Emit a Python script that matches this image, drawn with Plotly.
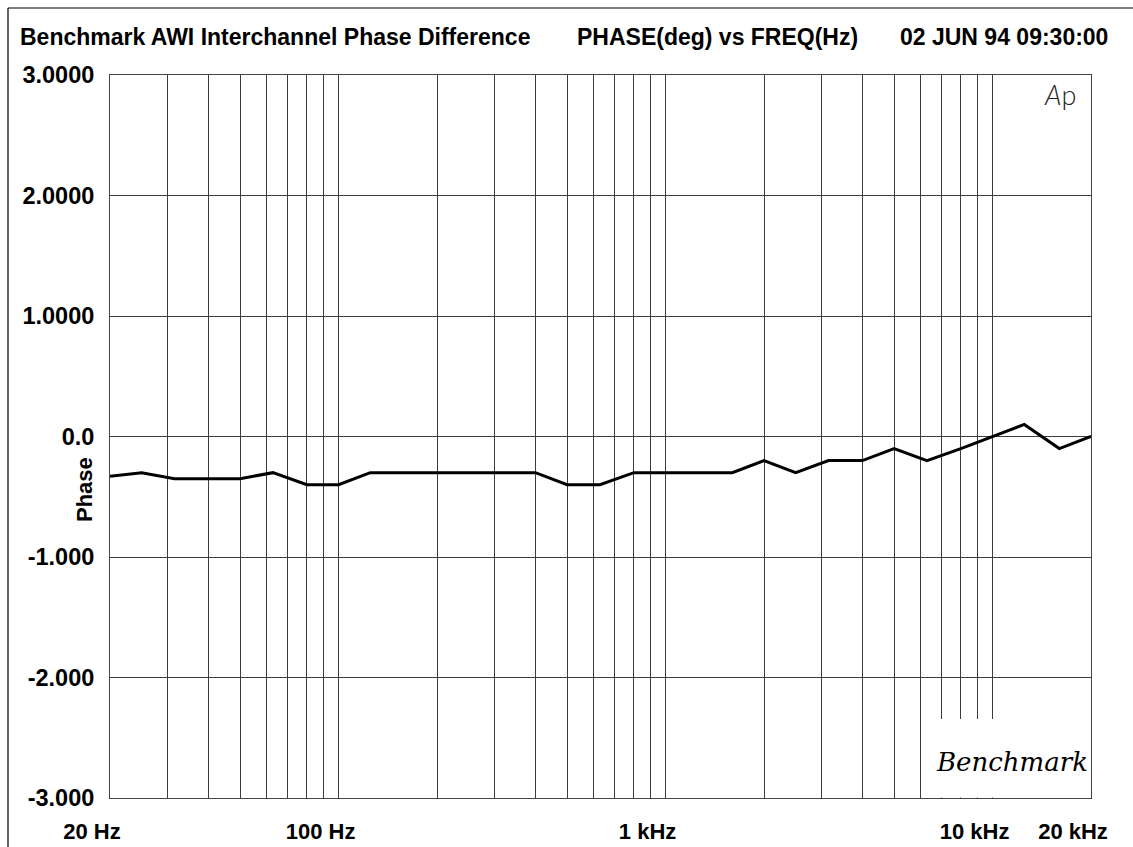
import plotly.graph_objects as go

# ---- data (1/3-octave points) ----
freq_hz = [20, 25, 31.5, 40, 50, 63, 80, 100, 125, 160, 200, 250, 315, 400, 500, 630,
           800, 1000, 1250, 1600, 2000, 2500, 3150, 4000, 5000, 6300, 8000, 10000,
           12500, 16000, 20000]
phase_deg = [-0.33, -0.30, -0.35, -0.35, -0.35, -0.30, -0.40, -0.40, -0.30, -0.30,
             -0.30, -0.30, -0.30, -0.30, -0.40, -0.40, -0.30, -0.30, -0.30, -0.30,
             -0.20, -0.30, -0.20, -0.20, -0.10, -0.20, -0.10, 0.00, 0.10, -0.10, 0.00]

x_tick_vals = [20, 100, 1000, 10000, 20000]
x_tick_text = ["20 Hz", "100 Hz", "1 kHz", "10 kHz", "20 kHz"]
x_minor_vals = [30, 40, 50, 60, 70, 80, 90,
                200, 300, 400, 500, 600, 700, 800, 900,
                2000, 3000, 4000, 5000, 6000, 7000, 8000, 9000]
y_tick_vals = [3, 2, 1, 0, -1, -2, -3]
y_tick_text = ["3.0000", "2.0000", "1.0000", "0.0", "-1.000", "-2.000", "-3.000"]

title_left = "Benchmark AWI Interchannel Phase Difference"
title_mid = "PHASE(deg) vs FREQ(Hz)"
title_right = "02 JUN 94 09:30:00"
y_label = "Phase"

# ---- layout geometry ----
W, H = 1133, 847
L, R, T, B = 110, 42, 75, 49
PW, PH = W - L - R, H - T - B


def px(xp):
    return (xp - L) / PW


def py(yp):
    return (H - B - yp) / PH


FONT = "Liberation Sans, Arial, Helvetica, sans-serif"
GRID = "#3c3c3c"

fig = go.Figure()
fig.add_trace(go.Scatter(x=freq_hz, y=phase_deg, mode="lines",
                         line=dict(color="black", width=3), hoverinfo="x+y"))

fig.update_layout(
    width=W, height=H,
    margin=dict(l=L, r=R, t=T, b=B, pad=0, autoexpand=False),
    plot_bgcolor="white", paper_bgcolor="white",
    showlegend=False,
    font=dict(family=FONT, color="black"),
)

fig.update_xaxes(
    type="log", range=[1.30103, 4.30103],
    tickvals=x_tick_vals, ticktext=x_tick_text,
    tickfont=dict(family=FONT, size=22, color="black", weight="bold"),
    ticks="", ticklabelshift=-18, ticklabelstandoff=14, automargin=False,
    showgrid=True, gridcolor=GRID, gridwidth=1,
    minor=dict(tickvals=x_minor_vals, showgrid=True, gridcolor=GRID, gridwidth=1, ticks=""),
    showline=True, linecolor="#444", linewidth=1, mirror=True,
    zeroline=False,
)
fig.update_yaxes(
    range=[-3, 3],
    tickvals=y_tick_vals, ticktext=y_tick_text,
    tickfont=dict(family=FONT, size=23.5, color="black", weight="bold"),
    ticks="", ticklabelstandoff=10, automargin=False,
    showgrid=True, gridcolor=GRID, gridwidth=1,
    showline=True, linecolor="#444", linewidth=1, mirror=True,
    zeroline=False,
)

# white patch behind the signature (covers grid lines as in the original)
fig.add_shape(type="rect", xref="paper", yref="paper",
              x0=px(925), x1=px(1089.5), y0=py(719), y1=py(797.6),
              fillcolor="white", line=dict(width=0), layer="above")

# outer frame (top and left edges)
fig.add_shape(type="line", xref="paper", yref="paper",
              x0=px(8), x1=px(1140), y0=py(8), y1=py(8),
              line=dict(color="black", width=1.2))
fig.add_shape(type="line", xref="paper", yref="paper",
              x0=px(8), x1=px(8), y0=py(8), y1=py(860),
              line=dict(color="black", width=1.2))

title_font = dict(family=FONT, size=23, color="black", weight="bold")
fig.add_annotation(text=title_left, xref="paper", yref="paper", x=px(18), y=py(37.5),
                   xanchor="left", yanchor="middle", showarrow=False, font=title_font)
fig.add_annotation(text=title_mid, xref="paper", yref="paper", x=px(575), y=py(37.5),
                   xanchor="left", yanchor="middle", showarrow=False, font=title_font)
fig.add_annotation(text=title_right, xref="paper", yref="paper", x=px(1110), y=py(37.5),
                   xanchor="right", yanchor="middle", showarrow=False, font=title_font)

fig.add_annotation(text=y_label, xref="paper", yref="paper", x=px(85), y=py(490),
                   xanchor="center", yanchor="middle", textangle=-90, showarrow=False,
                   font=dict(family=FONT, size=22, color="black", weight="bold"))

# "Ap" logo
fig.add_annotation(text="<i>A</i>p", xref="paper", yref="paper", x=px(1060), y=py(94),
                   xanchor="center", yanchor="middle", showarrow=False,
                   font=dict(family="Lato, DejaVu Sans, sans-serif", size=27,
                             color="#222", weight=300))

# signature
fig.add_annotation(text="<i>Benchmark</i>", xref="paper", yref="paper", x=px(1012), y=py(762),
                   xanchor="center", yanchor="middle", showarrow=False,
                   font=dict(family="DejaVu Serif, Liberation Serif, serif", size=26,
                             color="black", weight=300))

fig.write_html("out.html", config={"displayModeBar": False},
               post_script="document.body.style.margin='0px';")
